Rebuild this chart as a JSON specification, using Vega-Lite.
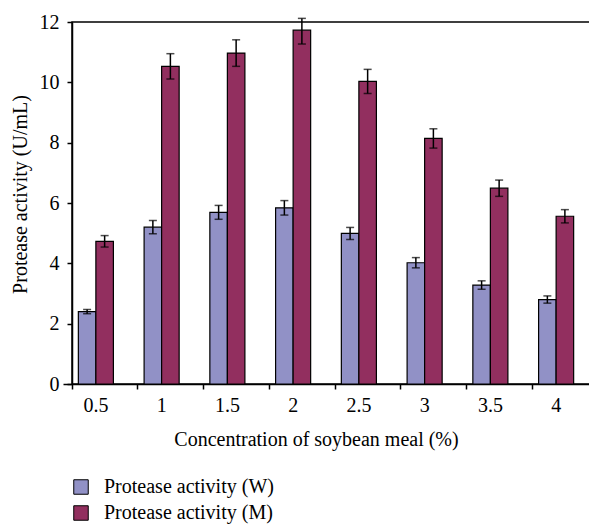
{
  "$schema": "https://vega.github.io/schema/vega-lite/v6.json",
  "width": 526,
  "height": 362,
  "autosize": "none",
  "padding": {"left": 72, "top": 22, "right": 0, "bottom": 143},
  "background": "white",
  "config": {
    "font": "Liberation Serif",
    "view": {"stroke": "black", "strokeWidth": 1.5},
    "axis": {"labelFont": "Liberation Serif", "titleFont": "Liberation Serif", "labelColor": "black", "titleColor": "black", "domainColor": "black", "tickColor": "black", "titleFontWeight": "normal", "domainWidth": 1.5, "tickWidth": 1.5}
  },
  "data": {
    "values": [
      {"conc": "0.5", "series": "Protease activity (W)", "value": 2.40, "lo": 2.33, "hi": 2.47},
      {"conc": "0.5", "series": "Protease activity (M)", "value": 4.73, "lo": 4.54, "hi": 4.92},
      {"conc": "1", "series": "Protease activity (W)", "value": 5.20, "lo": 4.98, "hi": 5.42},
      {"conc": "1", "series": "Protease activity (M)", "value": 10.53, "lo": 10.11, "hi": 10.95},
      {"conc": "1.5", "series": "Protease activity (W)", "value": 5.69, "lo": 5.46, "hi": 5.92},
      {"conc": "1.5", "series": "Protease activity (M)", "value": 10.97, "lo": 10.53, "hi": 11.41},
      {"conc": "2", "series": "Protease activity (W)", "value": 5.84, "lo": 5.60, "hi": 6.08},
      {"conc": "2", "series": "Protease activity (M)", "value": 11.73, "lo": 11.27, "hi": 12.12},
      {"conc": "2.5", "series": "Protease activity (W)", "value": 4.99, "lo": 4.79, "hi": 5.19},
      {"conc": "2.5", "series": "Protease activity (M)", "value": 10.03, "lo": 9.63, "hi": 10.43},
      {"conc": "3", "series": "Protease activity (W)", "value": 4.02, "lo": 3.85, "hi": 4.19},
      {"conc": "3", "series": "Protease activity (M)", "value": 8.14, "lo": 7.82, "hi": 8.46},
      {"conc": "3.5", "series": "Protease activity (W)", "value": 3.28, "lo": 3.14, "hi": 3.42},
      {"conc": "3.5", "series": "Protease activity (M)", "value": 6.49, "lo": 6.22, "hi": 6.76},
      {"conc": "4", "series": "Protease activity (W)", "value": 2.80, "lo": 2.68, "hi": 2.92},
      {"conc": "4", "series": "Protease activity (M)", "value": 5.56, "lo": 5.34, "hi": 5.78}
    ]
  },
  "encoding": {
    "x": {
      "field": "conc", "type": "nominal",
      "sort": ["0.5", "1", "1.5", "2", "2.5", "3", "3.5", "4"],
      "scale": {"type": "band", "range": [-9, 517], "paddingInner": 0.467, "paddingOuter": 0.2335},
      "axis": {
        "title": "Concentration of soybean meal (%)",
        "labelAngle": 0, "labelFontSize": 20, "titleFontSize": 20,
        "bandPosition": -0.181, "labelOffset": 0,
        "tickSize": 5, "labelPadding": 6,
        "titleX": 244, "titleY": 61, "titleBaseline": "alphabetic"
      }
    },
    "xOffset": {
      "field": "series", "type": "nominal",
      "scale": {"domain": ["Protease activity (W)", "Protease activity (M)"], "paddingInner": 0, "paddingOuter": 0}
    }
  },
  "layer": [
    {
      "mark": {"type": "bar", "stroke": "black", "strokeWidth": 1.2},
      "encoding": {
        "y": {
          "field": "value", "type": "quantitative",
          "scale": {"domain": [0, 12], "nice": false},
          "axis": {
            "title": "Protease activity (U/mL)",
            "values": [0, 2, 4, 6, 8, 10, 12],
            "grid": false, "labelFontSize": 20, "titleFontSize": 20,
            "tickSize": 5, "labelPadding": 8,
            "titleX": -52, "titleY": 172, "titleBaseline": "middle"
          }
        },
        "fill": {
          "field": "series", "type": "nominal",
          "scale": {"domain": ["Protease activity (W)", "Protease activity (M)"], "range": ["#9191c6", "#922f5f"]},
          "legend": {
            "title": null, "orient": "none", "legendX": -1, "legendY": 455,
            "symbolType": "square", "symbolSize": 210, "symbolStrokeColor": "black", "symbolStrokeWidth": 1,
            "labelFont": "Liberation Serif", "labelFontSize": 20, "labelColor": "black", "labelLimit": 400,
            "rowPadding": 6, "labelOffset": 13, "padding": 0
          }
        }
      }
    },
    {
      "mark": {"type": "rule", "color": "black", "strokeWidth": 1.5},
      "encoding": {
        "y": {"field": "lo", "type": "quantitative"},
        "y2": {"field": "hi"}
      }
    },
    {
      "mark": {"type": "tick", "color": "black", "thickness": 1.5, "size": 8, "orient": "horizontal"},
      "encoding": {
        "y": {"field": "lo", "type": "quantitative"}
      }
    },
    {
      "mark": {"type": "tick", "color": "black", "thickness": 1.5, "size": 8, "orient": "horizontal"},
      "encoding": {
        "y": {"field": "hi", "type": "quantitative"}
      }
    }
  ]
}
